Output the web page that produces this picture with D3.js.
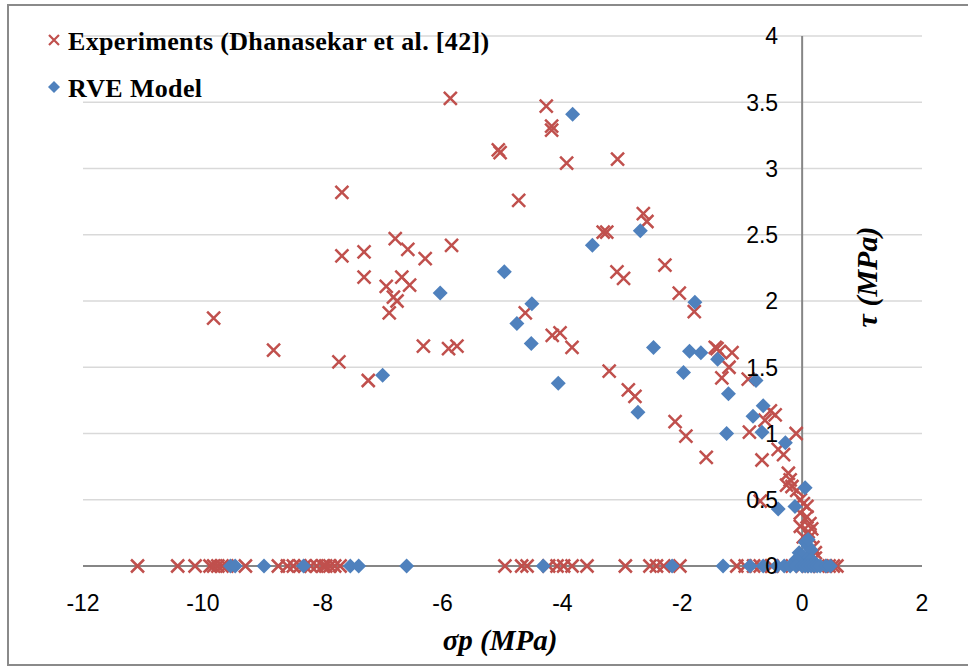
<!DOCTYPE html>
<html><head><meta charset="utf-8">
<script src="https://cdn.jsdelivr.net/npm/d3@7"></script>
<style>body{margin:0;background:#fff}svg{display:block}</style>
</head><body>
<svg id="chart" width="968" height="666"></svg>
<script>
// ---- data ----
const experimentsSigma = [
 -9.82,-8.82,-7.68,-7.68,-7.73,-7.31,-7.31,-7.24,-6.94,-6.89,-6.82,-6.79,-6.76,-6.68,-6.58,-6.55,-6.32,-6.29,-5.90,-5.85,-5.76,-5.87,
 -5.07,-5.04,-4.73,-4.62,-4.27,-4.18,-4.18,-4.17,-4.04,-3.93,-3.84,-3.32,-3.26,-3.22,-3.09,-3.08,-2.98,-2.90,-2.79,-2.65,-2.59,-2.29,
 -2.12,-2.05,-1.94,-1.80,-1.60,-1.45,-1.42,-1.38,-1.34,-1.22,-1.17,-0.90,-0.88,-0.67,-0.62,-0.53,-0.45,-0.40,-0.31,-0.10,-0.70,-0.23,
 -0.20,-0.26,-0.17,-0.09,-0.03,0.02,0.08,-0.03,0.08,0.13,0.16,-0.03,0.02,0.13,0.10,0.18,0.22,0.22,
 -11.09,-10.42,-10.13,-9.88,-9.82,-9.75,-9.68,-9.60,-9.29,-8.74,-8.59,-8.49,-8.38,-8.30,-8.20,-8.10,-8.00,-7.95,-7.88,-7.80,-7.71,
 -4.96,-4.68,-4.59,-4.23,-4.09,-3.98,-3.84,-3.59,-2.95,-2.54,-2.43,-2.31,-2.04,-1.09,-0.95,-0.81,-0.70,-0.50,-0.35,0.00,0.10,0.30,0.45,0.52,0.58];
const experimentsTau = [
 1.87,1.63,2.82,2.34,1.54,2.37,2.18,1.40,2.11,1.91,2.03,2.47,2.00,2.18,2.39,2.12,1.66,2.32,1.64,2.42,1.66,3.53,
 3.14,3.12,2.76,1.91,3.47,3.32,3.29,1.74,1.76,3.04,1.65,2.52,2.52,1.47,2.22,3.07,2.17,1.33,1.28,2.66,2.60,2.27,
 1.09,2.06,0.98,1.92,0.82,1.65,1.64,1.62,1.42,1.50,1.61,1.41,1.01,0.80,1.10,1.17,1.14,0.88,0.84,1.00,0.49,0.70,
 0.65,0.61,0.60,0.57,0.50,0.47,0.45,0.40,0.37,0.32,0.28,0.30,0.22,0.22,0.26,0.14,0.10,0.06,
 0,0,0,0,0,0,0,0,0,0,0,0,0,0,0,0,0,0,0,0,0,
 0,0,0,0,0,0,0,0,0,0,0,0,0,0,0,0,0,0,0,0,0,0,0,0,0,0];
const rveSigma = [
 -7.00,-6.04,-4.97,-4.76,-4.52,-4.51,-4.07,-3.83,-3.50,-2.74,-2.70,-2.48,-1.98,-1.88,-1.79,-1.69,-1.41,-1.26,-1.23,-0.82,-0.77,-0.67,-0.65,
 -0.40,-0.28,-0.12,0.05,0.05,0.10,0.15,-0.05,0.00,0.08,0.15,0.20,0.10,-0.10,
 -9.54,-9.46,-8.98,-8.32,-7.54,-7.40,-6.60,-4.32,-2.17,-1.32,-0.87,-0.65,-0.42,-0.30,-0.20,-0.10,0.00,0.05,0.10,0.15,0.20,0.25,0.30,0.40,0.47];
const rveTau = [
 1.44,2.06,2.22,1.83,1.68,1.98,1.38,3.41,2.42,1.16,2.53,1.65,1.46,1.62,1.99,1.61,1.56,1.00,1.30,1.13,1.40,1.01,1.21,
 0.43,0.93,0.45,0.59,0.18,0.15,0.12,0.10,0.08,0.05,0.05,0.03,0.20,0.05,
 0,0,0,0,0,0,0,0,0,0,0,0,0,0,0,0,0,0,0,0,0,0,0,0,0];
const xTicks = [-12,-10,-8,-6,-4,-2,0,2];
const yTicks = [0,0.5,1,1.5,2,2.5,3,3.5,4];
const seriesNames = ["Experiments (Dhanasekar et al. [42])", "RVE Model"];
const seriesColors = ["#C0504D", "#4F81BD"];

// ---- chart ----
const svg = d3.select("#chart");
const x = d3.scaleLinear().domain([-12, 2]).range([83, 922]);
const y = d3.scaleLinear().domain([0, 4]).range([566, 36]);

svg.append("rect").attr("x", 8).attr("y", 5).attr("width", 1000).attr("height", 660)
  .attr("fill", "#fff").attr("stroke", "#8a8a8a").attr("stroke-width", 2);

// gridlines
svg.append("g").selectAll("line").data(yTicks.filter(d => d > 0)).join("line")
  .attr("x1", x(-12)).attr("x2", x(2)).attr("y1", d => y(d)).attr("y2", d => y(d))
  .attr("stroke", "#d9d9d9").attr("stroke-width", 1.5);

// axis lines
svg.append("line").attr("x1", x(-12)).attr("x2", x(2)).attr("y1", y(0)).attr("y2", y(0))
  .attr("stroke", "#868686").attr("stroke-width", 2);
svg.append("line").attr("x1", x(0)).attr("x2", x(0)).attr("y1", y(0)).attr("y2", y(4))
  .attr("stroke", "#868686").attr("stroke-width", 2);

const crossPath = "M-6.5,-6.5L6.5,6.5M-6.5,6.5L6.5,-6.5";
const diamondPath = "M0,-7.5L7.5,0L0,7.5L-7.5,0Z";

const exp = experimentsSigma.map((s, i) => [s, experimentsTau[i]]);
const rve = rveSigma.map((s, i) => [s, rveTau[i]]);

svg.append("g").selectAll("path").data(exp).join("path")
  .attr("d", crossPath).attr("transform", d => `translate(${x(d[0])},${y(d[1])})`)
  .attr("fill", "none").attr("stroke", seriesColors[0]).attr("stroke-width", 2.5);

svg.append("g").selectAll("path").data(rve).join("path")
  .attr("d", diamondPath).attr("transform", d => `translate(${x(d[0])},${y(d[1])})`)
  .attr("fill", seriesColors[1]);

// tick labels
const tickFont = "'Liberation Sans', Arial, sans-serif";
svg.append("g").selectAll("text").data(yTicks).join("text")
  .attr("x", x(0) - 24).attr("y", d => y(d)).attr("dy", "0.36em")
  .attr("text-anchor", "end").attr("font-family", tickFont).attr("font-size", 23)
  .attr("fill", "#000").text(d => d);
svg.append("g").selectAll("text").data(xTicks).join("text")
  .attr("x", d => x(d)).attr("y", 603).attr("dy", "0.36em")
  .attr("text-anchor", "middle").attr("font-family", tickFont).attr("font-size", 23)
  .attr("fill", "#000").text(d => d);

// axis titles
const serif = "'Liberation Serif', 'Times New Roman', serif";
svg.append("text").attr("x", 500).attr("y", 650).attr("text-anchor", "middle")
  .attr("font-family", serif).attr("font-size", 29).attr("font-weight", "bold").attr("font-style", "italic")
  .text("σp (MPa)");
svg.append("text").attr("transform", "translate(877,277) rotate(-90)").attr("text-anchor", "middle")
  .attr("font-family", serif).attr("font-size", 30).attr("font-weight", "bold").attr("font-style", "italic")
  .text("τ (MPa)");

// legend
const lg = svg.append("g");
lg.append("path").attr("d", "M-5,-5L5,5M-5,5L5,-5").attr("transform", "translate(54,40)")
  .attr("fill", "none").attr("stroke", seriesColors[0]).attr("stroke-width", 2.2);
lg.append("path").attr("d", "M0,-6L6,0L0,6L-6,0Z").attr("transform", "translate(54,87)")
  .attr("fill", seriesColors[1]);
lg.selectAll("text").data(seriesNames).join("text")
  .attr("x", 68).attr("y", (d, i) => 50 + i * 47)
  .attr("font-family", serif).attr("font-size", 26).attr("font-weight", "bold")
  .attr("letter-spacing", 0.35)
  .text(d => d);
</script>
</body></html>
